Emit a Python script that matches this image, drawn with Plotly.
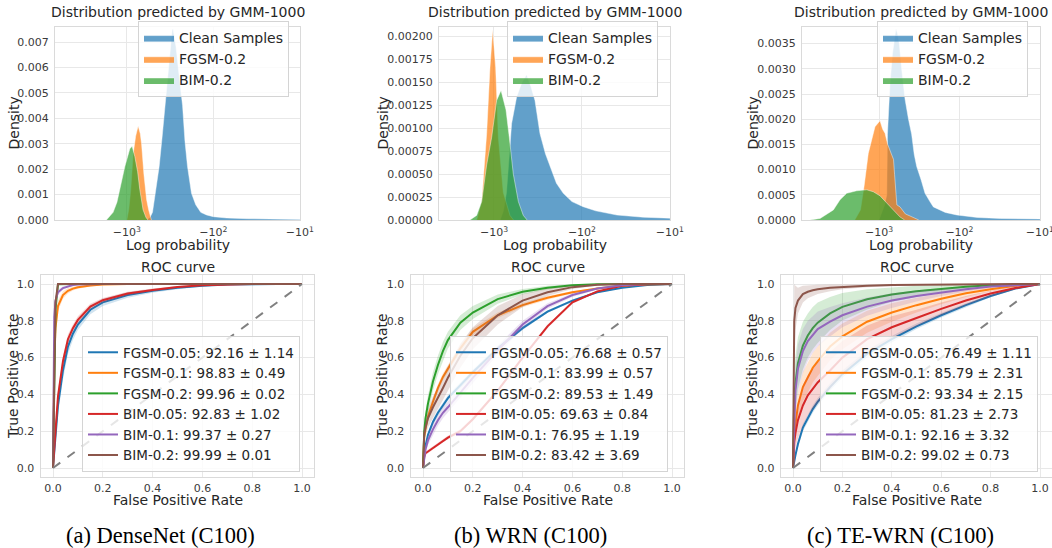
import plotly.graph_objects as go

W, H = 1052, 548
FONT = "DejaVu Sans"
INK = "#262626"
TICK_INK = "#3a3a3a"
GRID = "#e8e8e8"
SPINE = "#dadada"

# ---------------- labels ----------------
captions = ["(a) DenseNet (C100)", "(b) WRN (C100)", "(c) TE-WRN (C100)"]
hist_labels = ["Clean Samples", "FGSM-0.2", "BIM-0.2"]
roc_labels = ["FGSM-0.05", "FGSM-0.1", "FGSM-0.2", "BIM-0.05", "BIM-0.1", "BIM-0.2"]

# ---------------- log-probability histograms (GMM-1000) ----------------
dn_clean_logp = [-600, -540, -505, -462, -423, -390, -357, -318, -299, -292, -270, -255, -240,
                 -227, -213, -199, -179, -160, -140, -120, -100, -70, -40, -20, -10]
dn_clean_density = [0, 0.0001, 0.0003, 0.0013, 0.0021, 0.0033, 0.0047, 0.0068, 0.0075, 0.0075,
                    0.0068, 0.0060, 0.0053, 0.0045, 0.0031, 0.0021, 0.00105, 0.0006, 0.0003,
                    0.0002, 0.00013, 0.00008, 0.00005, 0.00003, 0.00002]
dn_fgsm_logp = [-1000, -950, -900, -845, -790, -740, -700, -676, -635, -591, -560, -542, -520]
dn_fgsm_density = [0, 0.0004, 0.0012, 0.0026, 0.0033, 0.0037, 0.0034, 0.0030, 0.0018, 0.0008,
                   0.0004, 0.0002, 0]
dn_bim_logp = [-1720, -1440, -1300, -1205, -1054, -923, -869, -809, -750, -708, -649, -600, -570]
dn_bim_density = [0, 0.0003, 0.0007, 0.0012, 0.0021, 0.0028, 0.0029, 0.0025, 0.0019, 0.0012,
                  0.0004, 0.0001, 0]

wrn_clean_logp = [-850, -780, -720, -680, -630, -552, -480, -426, -380, -342, -300, -260, -231,
                  -195, -163, -130, -97, -70, -40, -20, -10]
wrn_clean_density = [0, 0.0001, 0.0003, 0.0006, 0.00105, 0.00134, 0.0015, 0.00158, 0.00145,
                     0.0013, 0.00094, 0.00072, 0.00058, 0.0004, 0.00029, 0.0002, 0.000145,
                     0.0001, 0.000054, 0.00003, 0.00002]
wrn_fgsm_logp = [-1573, -1380, -1211, -1110, -1035, -957, -893, -784, -658, -600]
wrn_fgsm_density = [0, 0.0002, 0.00094, 0.00166, 0.00207, 0.00166, 0.0009, 0.0003, 0.00005, 0]
wrn_bim_logp = [-1875, -1574, -1380, -1211, -1063, -933, -832, -731, -670, -603, -528, -464, -420]
wrn_bim_density = [0, 0.00005, 0.0002, 0.0006, 0.0009, 0.0013, 0.00141, 0.0012, 0.0009, 0.0005,
                   0.0002, 0.00005, 0]

te_clean_logp = [-1000, -950, -850, -800, -785, -730, -680, -640, -615, -590, -559, -523, -475,
                 -430, -393, -365, -340, -300, -268, -230, -211, -150, -108, -60, -31, -10]
te_clean_density = [0, 0.0001, 0.0003, 0.0005, 0.0017, 0.0027, 0.0033, 0.0036, 0.0038, 0.0037,
                    0.0035, 0.0030, 0.0024, 0.0020, 0.0017, 0.0013, 0.00106, 0.0008, 0.00053,
                    0.00035, 0.00026, 0.00015, 0.0001, 0.00005, 0.00003, 0.00002]
te_fgsm_logp = [-2000, -1700, -1535, -1359, -1121, -972, -900, -842, -780, -700, -660, -640,
                -620, -600, -548, -470, -412, -350, -320]
te_fgsm_density = [0, 0.0002, 0.00066, 0.00132, 0.00185, 0.00197, 0.0018, 0.00172, 0.0015,
                   0.0013, 0.0012, 0.0009, 0.0005, 0.0003, 0.00026, 0.00012, 0.00008, 0.00002, 0]
te_bim_logp = [-7200, -5400, -3690, -3050, -2521, -1893, -1423, -1176, -972, -803, -664, -548, -480]
te_bim_density = [0, 0.00003, 0.0002, 0.0004, 0.00053, 0.00058, 0.0006, 0.00056, 0.00048,
                  0.00033, 0.0002, 0.00006, 0]

hist_sets = [
    [(dn_clean_logp, dn_clean_density), (dn_fgsm_logp, dn_fgsm_density), (dn_bim_logp, dn_bim_density)],
    [(wrn_clean_logp, wrn_clean_density), (wrn_fgsm_logp, wrn_fgsm_density), (wrn_bim_logp, wrn_bim_density)],
    [(te_clean_logp, te_clean_density), (te_fgsm_logp, te_fgsm_density), (te_bim_logp, te_bim_density)],
]

# ---------------- ROC curves (mean TPR and std band on a shared FPR grid) ----------------
fpr_grid = [0, 0.005, 0.01, 0.02, 0.04, 0.06, 0.08, 0.1, 0.15, 0.2, 0.3, 0.4, 0.5, 0.6, 0.7, 0.8, 0.9, 1.0]

dn_auc = [92.16, 98.83, 99.96, 92.83, 99.37, 99.99]
dn_std = [1.14, 0.49, 0.02, 1.02, 0.27, 0.01]
dn_tpr = [
    [0, .09, .17, .34, .53, .66, .73, .78, .86, .90, .94, .963, .98, .991, .997, 1, 1, 1],
    [0, .57, .76, .88, .94, .963, .975, .982, .992, .997, 1, 1, 1, 1, 1, 1, 1, 1],
    [0, .42, .86, .998, 1, 1, 1, 1, 1, 1, 1, 1, 1, 1, 1, 1, 1, 1],
    [0, .12, .20, .39, .58, .70, .76, .805, .877, .912, .948, .968, .984, .993, .998, 1, 1, 1],
    [0, .82, .91, .955, .978, .988, .994, .997, .999, 1, 1, 1, 1, 1, 1, 1, 1, 1],
    [0, .45, .90, 1, 1, 1, 1, 1, 1, 1, 1, 1, 1, 1, 1, 1, 1, 1],
]
dn_band = [
    [0, .03, .04, .05, .05, .04, .035, .03, .025, .02, .015, .01, .008, .005, .003, 0, 0, 0],
    [0, .08, .05, .03, .02, .015, .01, .008, .005, .003, 0, 0, 0, 0, 0, 0, 0, 0],
    [0, .02, .005, 0, 0, 0, 0, 0, 0, 0, 0, 0, 0, 0, 0, 0, 0, 0],
    [0, .03, .03, .03, .03, .025, .02, .02, .015, .012, .01, .008, .005, .003, .002, 0, 0, 0],
    [0, .05, .03, .015, .01, .006, .004, .003, .001, 0, 0, 0, 0, 0, 0, 0, 0, 0],
    [0, .02, .003, 0, 0, 0, 0, 0, 0, 0, 0, 0, 0, 0, 0, 0, 0, 0],
]

wrn_auc = [76.68, 83.99, 89.53, 69.63, 76.95, 83.42]
wrn_std = [0.57, 0.57, 1.49, 0.84, 1.19, 3.69]
wrn_tpr = [
    [0, .09, .12, .18, .25, .30, .34, .38, .45, .52, .65, .76, .85, .91, .955, .98, .995, 1],
    [0, .17, .21, .28, .36, .435, .495, .54, .65, .74, .83, .885, .925, .955, .975, .99, .998, 1],
    [0, .20, .27, .35, .47, .56, .635, .695, .79, .845, .918, .958, .98, .993, .999, 1, 1, 1],
    [0, .06, .08, .09, .11, .13, .15, .165, .20, .265, .42, .60, .77, .90, .96, .99, .998, 1],
    [0, .07, .10, .15, .21, .26, .30, .33, .41, .49, .64, .78, .88, .94, .975, .993, 1, 1],
    [0, .19, .22, .27, .33, .38, .435, .49, .61, .705, .83, .91, .955, .983, .996, 1, 1, 1],
]
wrn_band = [
    [0, .01, .01, .01, .015, .015, .015, .015, .015, .015, .012, .01, .008, .006, .004, .002, .001, 0],
    [0, .02, .02, .02, .02, .02, .02, .02, .02, .02, .015, .012, .01, .007, .004, .002, .001, 0],
    [0, .04, .04, .045, .05, .05, .05, .045, .04, .035, .025, .015, .01, .005, .002, 0, 0, 0],
    [0, .01, .01, .01, .01, .01, .01, .01, .01, .01, .01, .01, .01, .008, .005, .002, .001, 0],
    [0, .02, .02, .025, .03, .03, .03, .03, .03, .03, .025, .02, .015, .01, .005, .002, .001, 0],
    [0, .04, .045, .05, .06, .06, .065, .065, .065, .06, .05, .035, .02, .01, .004, .001, 0, 0],
]

te_auc = [76.49, 85.79, 93.34, 81.23, 92.16, 99.02]
te_std = [1.11, 2.31, 2.15, 2.73, 3.32, 0.73]
te_tpr = [
    [0, .04, .07, .13, .22, .27, .32, .36, .44, .51, .62, .70, .77, .83, .885, .935, .975, 1],
    [0, .18, .24, .34, .44, .49, .545, .58, .66, .715, .795, .845, .885, .92, .95, .972, .99, 1],
    [0, .38, .46, .57, .665, .72, .76, .79, .84, .876, .917, .943, .96, .974, .985, .993, .998, 1],
    [0, .14, .19, .26, .34, .395, .43, .465, .53, .60, .70, .765, .815, .865, .91, .948, .978, 1],
    [0, .30, .42, .54, .635, .69, .725, .755, .795, .83, .877, .91, .935, .955, .972, .986, .995, 1],
    [0, .80, .87, .91, .945, .958, .966, .971, .979, .984, .99, .994, .996, .998, 1, 1, 1, 1],
]
te_band = [
    [0, .01, .015, .02, .02, .02, .02, .02, .02, .02, .02, .018, .015, .012, .01, .007, .004, 0],
    [0, .05, .06, .07, .08, .08, .08, .08, .075, .07, .06, .05, .04, .03, .02, .012, .006, 0],
    [0, .15, .15, .14, .13, .12, .115, .11, .09, .075, .055, .04, .03, .02, .013, .008, .004, 0],
    [0, .06, .08, .10, .11, .11, .11, .11, .10, .09, .075, .06, .045, .035, .025, .015, .008, 0],
    [0, .12, .13, .13, .12, .11, .10, .095, .08, .065, .05, .04, .03, .02, .013, .008, .004, 0],
    [0, .20, .12, .07, .045, .035, .03, .025, .018, .013, .008, .005, .003, .002, 0, 0, 0, 0],
]

roc_sets = [(dn_tpr, dn_band, dn_auc, dn_std),
            (wrn_tpr, wrn_band, wrn_auc, wrn_std),
            (te_tpr, te_band, te_auc, te_std)]

hist_colors = ["#1f77b4", "#ff7f0e", "#2ca02c"]
roc_colors = ["#1f77b4", "#ff7f0e", "#2ca02c", "#d62728", "#9467bd", "#8c564b"]


def rgba(hex_color, a):
    h = hex_color.lstrip("#")
    r, g, b = int(h[0:2], 16), int(h[2:4], 16), int(h[4:6], 16)
    return f"rgba({r},{g},{b},{a})"


def px_x(p):
    return p / W


def px_y(p):
    return 1 - p / H


# ---------------- panel geometry (pixels) ----------------
hist_box = [(55, 300), (439, 670), (802, 1040)]
hist_top, hist_bottom = 27, 220
hist_left_decade = [3.83, 3.625, 3.957]
hist_ymax = [0.00759, 0.0021, 0.00383]
hist_dtick = [0.001, 0.00025, 0.0005]
hist_fmt = [".3f", ".5f", ".4f"]
hist_legend_left = [138, 507, 877]
hist_legend_top = 21

roc_zero = [53, 423, 793]
roc_one = [302, 672, 1040]
roc_y_one, roc_y_zero = 284, 468
roc_legend_left = [82, 450, 820]
roc_legend_top = 336
ylabel_x = [13, 382, 752]
caption_x = [160, 530, 900]

fig = go.Figure()
layout = {}
annotations = []

tick_font = dict(family=FONT, size=11, color=TICK_INK)
frame = dict(showgrid=True, gridcolor=GRID, gridwidth=1, zeroline=False,
             showline=True, mirror=True, linecolor=SPINE, linewidth=1,
             ticks="", tickfont=tick_font, automargin=False)

for i in range(3):
    # ----- histogram panel -----
    n = i + 1
    xs = "" if n == 1 else str(n)
    lg = "legend" if n == 1 else f"legend{n}"
    for k, (logp, dens) in enumerate(hist_sets[i]):
        fig.add_trace(go.Scatter(
            x=[-v for v in logp], y=dens, mode="lines", fill="tozeroy",
            fillcolor=rgba(hist_colors[k], 0.7),
            line=dict(color="rgba(255,255,255,0.55)", width=0.8),
            name=hist_labels[k], xaxis="x" + xs, yaxis="y" + xs, legend=lg,
            hoverinfo="skip"))
    x0, x1 = hist_box[i]
    layout["xaxis" + xs] = dict(
        domain=[px_x(x0), px_x(x1)], anchor="y" + xs, type="log",
        range=[hist_left_decade[i], 0.999],
        tickvals=[1000, 100, 10],
        ticktext=["−10<sup>3</sup>", "−10<sup>2</sup>", "−10<sup>1</sup>"],
        ticklabelstandoff=2, ticklabeloverflow="allow", **frame)
    layout["yaxis" + xs] = dict(
        domain=[px_y(hist_bottom), px_y(hist_top)], anchor="x" + xs,
        range=[0, hist_ymax[i]], tick0=0, dtick=hist_dtick[i], tickformat=hist_fmt[i],
        ticklabelstandoff=3, **frame)
    layout[lg] = dict(
        x=px_x(hist_legend_left[i]), y=px_y(hist_legend_top), xanchor="left", yanchor="top",
        bgcolor="rgba(255,255,255,0.8)", bordercolor="#d4d4d4", borderwidth=1,
        font=dict(family=FONT, size=14, color=INK), itemwidth=30)
    cx = (x0 + x1) / 2
    annotations += [
        dict(text="Distribution predicted by GMM-1000", x=px_x(cx), y=px_y(12)),
        dict(text="Log probability", x=px_x(cx), y=px_y(244.5)),
        dict(text="Density", x=px_x(ylabel_x[i]), y=px_y((hist_top + hist_bottom) / 2), textangle=-90),
    ]

    # ----- ROC panel -----
    m = i + 4
    ms = str(m)
    lg2 = f"legend{m}"
    tpr_all, band_all, auc_all, std_all = roc_sets[i]
    for k in range(6):
        tpr = tpr_all[k]
        band = band_all[k]
        upper = [min(1.0, t + b) for t, b in zip(tpr, band)]
        lower = [max(0.0, t - b) for t, b in zip(tpr, band)]
        fig.add_trace(go.Scatter(
            x=fpr_grid + fpr_grid[::-1], y=upper + lower[::-1], mode="lines",
            fill="toself", fillcolor=rgba(roc_colors[k], 0.2), line=dict(width=0),
            showlegend=False, xaxis="x" + ms, yaxis="y" + ms, hoverinfo="skip"))
        fig.add_trace(go.Scatter(
            x=fpr_grid, y=tpr, mode="lines", line=dict(color=roc_colors[k], width=2),
            name=f"{roc_labels[k]}: {auc_all[k]:.2f} ± {std_all[k]:.2f}",
            xaxis="x" + ms, yaxis="y" + ms, legend=lg2, hoverinfo="skip"))
    fig.add_trace(go.Scatter(
        x=[0, 1], y=[0, 1], mode="lines", line=dict(color="#808080", width=2, dash="dash"),
        showlegend=False, xaxis="x" + ms, yaxis="y" + ms, hoverinfo="skip"))

    a0, a1 = roc_zero[i], roc_one[i]
    span = a1 - a0
    left = a0 - 0.05 * span
    right = min(W, a1 + 0.05 * span)
    yspan = roc_y_zero - roc_y_one
    top = roc_y_one - 0.05 * yspan
    bottom = roc_y_zero + 0.05 * yspan
    layout["xaxis" + ms] = dict(
        domain=[px_x(left), px_x(right)], anchor="y" + ms,
        range=[-(a0 - left) / span, 1 + (right - a1) / span],
        tickvals=[0, 0.2, 0.4, 0.6, 0.8, 1.0], tickformat=".1f",
        ticklabelstandoff=1, ticklabeloverflow="allow", **frame)
    layout["yaxis" + ms] = dict(
        domain=[px_y(bottom), px_y(top)], anchor="x" + ms, range=[-0.05, 1.05],
        tickvals=[0, 0.2, 0.4, 0.6, 0.8, 1.0], tickformat=".1f",
        ticklabelstandoff=3, **frame)
    layout[lg2] = dict(
        x=px_x(roc_legend_left[i]), y=px_y(roc_legend_top), xanchor="left", yanchor="top",
        bgcolor="rgba(255,255,255,0.8)", bordercolor="#d4d4d4", borderwidth=1,
        font=dict(family=FONT, size=13.5, color=INK), itemwidth=30)
    rcx = (a0 + a1) / 2
    annotations += [
        dict(text="ROC curve", x=px_x(rcx), y=px_y(267.5)),
        dict(text="False Positive Rate", x=px_x(rcx), y=px_y(500)),
        dict(text="True Positive Rate", x=px_x(ylabel_x[i]), y=px_y((top + bottom) / 2), textangle=-90),
        dict(text=captions[i], x=px_x(caption_x[i]), y=px_y(535),
             font=dict(family="Liberation Serif", size=22.5, color="#000000")),
    ]

for a in annotations:
    a.setdefault("font", dict(family=FONT, size=14, color=INK))
    a.update(xref="paper", yref="paper", showarrow=False, xanchor="center", yanchor="middle")

fig.update_layout(
    width=W, height=H, margin=dict(l=0, r=0, t=0, b=0, autoexpand=False),
    paper_bgcolor="white", plot_bgcolor="white",
    showlegend=True, hovermode=False, annotations=annotations, **layout)

fig.write_html("out.html")
